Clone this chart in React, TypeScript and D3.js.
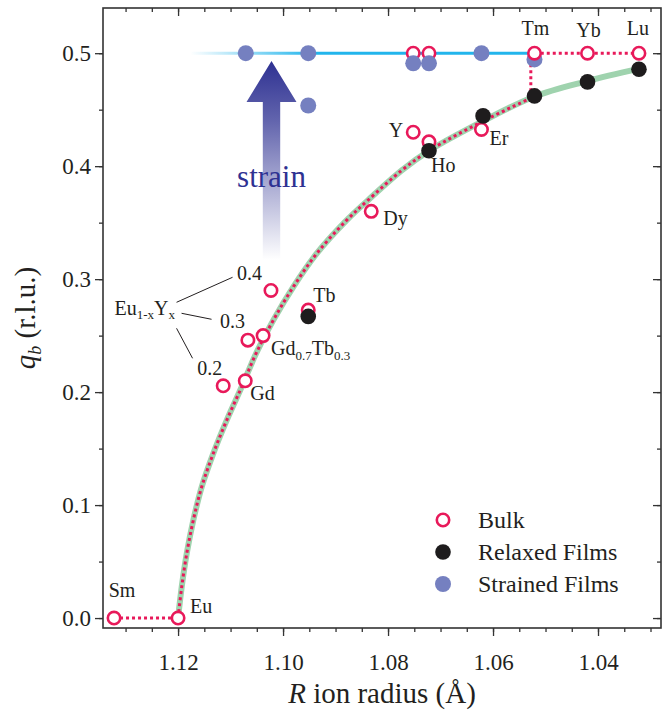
import React, { useEffect, useRef } from "react";
import * as d3 from "d3";

type Pt = { x: number; y: number };

// Bulk samples (open circles)
const bulk: Pt[] = [
  { x: 1.1322, y: 0.0 }, // Sm
  { x: 1.12, y: 0.0 }, // Eu
  { x: 1.1114, y: 0.2056 }, // Eu0.8Y0.2
  { x: 1.1072, y: 0.21 }, // Gd
  { x: 1.1067, y: 0.246 }, // Eu0.7Y0.3
  { x: 1.1038, y: 0.25 }, // Gd0.7Tb0.3
  { x: 1.1023, y: 0.29 }, // Eu0.6Y0.4
  { x: 1.0952, y: 0.2726 }, // Tb
  { x: 1.0832, y: 0.36 }, // Dy
  { x: 1.0752, y: 0.43 }, // Y
  { x: 1.0722, y: 0.4215 }, // Ho
  { x: 1.0622, y: 0.4325 }, // Er
  { x: 1.0752, y: 0.5 },
  { x: 1.0722, y: 0.5 },
  { x: 1.0521, y: 0.5 }, // Tm
  { x: 1.042, y: 0.5 }, // Yb
  { x: 1.0322, y: 0.5 }, // Lu
];

const relaxed: Pt[] = [
  { x: 1.0952, y: 0.267 },
  { x: 1.0722, y: 0.4136 },
  { x: 1.0619, y: 0.4445 },
  { x: 1.0521, y: 0.4622 },
  { x: 1.042, y: 0.4746 },
  { x: 1.0322, y: 0.4858 },
];

const strained: Pt[] = [
  { x: 1.1071, y: 0.5 },
  { x: 1.0952, y: 0.5 },
  { x: 1.0952, y: 0.4537 },
  { x: 1.0752, y: 0.491 },
  { x: 1.0722, y: 0.491 },
  { x: 1.0622, y: 0.5 },
];
// Tm strained film sits behind the bulk marker
const strainedBehind: Pt[] = [{ x: 1.0521, y: 0.4945 }];

// guide curve through the relaxed / bulk data
const fitCurve: [number, number][] = [
  [1.12, 0.0],
  [1.1193, 0.0277],
  [1.11834, 0.0573],
  [1.11709, 0.0867],
  [1.11549, 0.1162],
  [1.11328, 0.1458],
  [1.11072, 0.1752],
  [1.10787, 0.2047],
  [1.10514, 0.2342],
  [1.10185, 0.2637],
  [1.09804, 0.2932],
  [1.09358, 0.3227],
  [1.08787, 0.3522],
  [1.08381, 0.3699],
  [1.07733, 0.3965],
  [1.072, 0.4142],
  [1.0621, 0.4394],
  [1.05219, 0.4615],
  [1.0421, 0.4752],
  [1.03219, 0.4863],
];
const bulkFlat: [number, number][] = [
  [1.1322, 0],
  [1.12, 0],
];
const bulkTail: [number, number][] = [
  [1.0528, 0.461],
  [1.0528, 0.5],
  [1.0322, 0.5],
];
const strainedGuide: [number, number][] = [
  [1.1177, 0.5],
  [1.0521, 0.5],
];

const xTicks = [1.12, 1.1, 1.08, 1.06, 1.04];
const yTicks = [0.0, 0.1, 0.2, 0.3, 0.4, 0.5];
const xMinor = d3.range(1.13, 1.029, -0.005);
const yMinor = d3.range(0, 0.531, 0.05);

type Part = [string, boolean];
const labels: { parts: Part[]; x: number; y: number; dx: number; dy: number; anchor: string }[] = [
  { parts: [["Sm", false]], x: 1.1322, y: 0, dx: 8, dy: -21, anchor: "middle" },
  { parts: [["Eu", false]], x: 1.12, y: 0, dx: 12, dy: -5, anchor: "start" },
  { parts: [["Gd", false]], x: 1.1072, y: 0.21, dx: 5, dy: 19, anchor: "start" },
  {
    parts: [["Gd", false], ["0.7", true], ["Tb", false], ["0.3", true]],
    x: 1.1038, y: 0.25, dx: 8, dy: 19, anchor: "start",
  },
  { parts: [["Tb", false]], x: 1.0952, y: 0.2726, dx: 5, dy: -8, anchor: "start" },
  { parts: [["Dy", false]], x: 1.0832, y: 0.36, dx: 12, dy: 14, anchor: "start" },
  { parts: [["Y", false]], x: 1.0752, y: 0.43, dx: -10, dy: 5, anchor: "end" },
  { parts: [["Ho", false]], x: 1.0722, y: 0.4215, dx: 2, dy: 30, anchor: "start" },
  { parts: [["Er", false]], x: 1.0622, y: 0.4325, dx: 8, dy: 16, anchor: "start" },
  { parts: [["Tm", false]], x: 1.0521, y: 0.5, dx: 1, dy: -18, anchor: "middle" },
  { parts: [["Yb", false]], x: 1.042, y: 0.5, dx: 1, dy: -16, anchor: "middle" },
  { parts: [["Lu", false]], x: 1.0322, y: 0.5, dx: -1, dy: -18, anchor: "middle" },
  { parts: [["0.4", false]], x: 1.1023, y: 0.29, dx: -34, dy: -10, anchor: "start" },
  { parts: [["0.3", false]], x: 1.1067, y: 0.246, dx: -28, dy: -12, anchor: "start" },
  { parts: [["0.2", false]], x: 1.1114, y: 0.2056, dx: -26, dy: -11, anchor: "start" },
];

// Eu1-xYx label and its leader lines (offsets from the label origin)
const euYLabel = { x: 1.1321, y: 0.268 };
const euYLeaders: [number, number, number, number][] = [
  [62, -13, 118, -38],
  [67, -2, 97, 4],
  [62, 13, 78, 43],
];

const strainArrow = { x: 1.1022, y0: 0.317, y1: 0.493 };

const legendItems = ["Bulk", "Relaxed Films", "Strained Films"];

const RED = "#e8195a";
const BLACK = "#1e1c1d";
const VIOLET = "#7580c0";
const SKY = "#22b5ec";
const GREEN = "#9fd3ae";
const NAVY = "#2e3192";
const INK = "#231f20";
const FONT = "'Liberation Serif', 'Times New Roman', serif";

const Chart = () => {
  const chartRef = useRef<HTMLDivElement>(null);

  useEffect(() => {
    document.body.style.margin = "0";
    const W = 670;
    const H = 713;
    const margin = { top: 8, right: 9, bottom: 85, left: 103 };

    d3.select(chartRef.current).selectAll("*").remove();

    const svg = d3
      .select(chartRef.current)
      .append("svg")
      .attr("width", W)
      .attr("height", H)
      .style("display", "block")
      .style("font-family", FONT);

    const x = d3.scaleLinear().domain([1.1343, 1.028]).range([margin.left, W - margin.right]);
    const y = d3.scaleLinear().domain([-0.0088, 0.54]).range([H - margin.bottom, margin.top]);

    const defs = svg.append("defs");
    const gBlue = defs
      .append("linearGradient")
      .attr("id", "skyfade")
      .attr("gradientUnits", "userSpaceOnUse")
      .attr("x1", x(1.1177))
      .attr("x2", x(1.094))
      .attr("y1", 0)
      .attr("y2", 0);
    gBlue.append("stop").attr("offset", 0).attr("stop-color", SKY).attr("stop-opacity", 0);
    gBlue.append("stop").attr("offset", 1).attr("stop-color", SKY).attr("stop-opacity", 1);

    const gArrow = defs
      .append("linearGradient")
      .attr("id", "strainfade")
      .attr("gradientUnits", "userSpaceOnUse")
      .attr("x1", 0)
      .attr("x2", 0)
      .attr("y1", y(strainArrow.y1))
      .attr("y2", y(strainArrow.y0));
    gArrow.append("stop").attr("offset", 0).attr("stop-color", NAVY).attr("stop-opacity", 1);
    gArrow.append("stop").attr("offset", 0.3).attr("stop-color", NAVY).attr("stop-opacity", 0.75);
    gArrow.append("stop").attr("offset", 1).attr("stop-color", NAVY).attr("stop-opacity", 0);

    // Axes
    const x0 = margin.left;
    const x1 = W - margin.right;
    const y0 = H - margin.bottom;
    const y1 = margin.top;

    const styleAxis = (g: any) => {
      g.select(".domain").remove();
      g.selectAll("line").attr("stroke", "#333").attr("stroke-width", 1.3);
      g.selectAll("text").attr("fill", INK).style("font-family", FONT).style("font-size", "23px");
    };

    svg
      .append("g")
      .attr("transform", `translate(0,${y0})`)
      .call(d3.axisBottom(x).tickValues(xMinor).tickSize(4).tickFormat(() => ""))
      .call(styleAxis);
    svg
      .append("g")
      .attr("transform", `translate(0,${y0})`)
      .call(d3.axisBottom(x).tickValues(xTicks).tickSize(8).tickPadding(18).tickFormat(d3.format(".2f")))
      .call(styleAxis);
    svg
      .append("g")
      .attr("transform", `translate(0,${y1})`)
      .call(d3.axisTop(x).tickValues(xMinor).tickSize(-4).tickFormat(() => ""))
      .call(styleAxis);
    svg
      .append("g")
      .attr("transform", `translate(0,${y1})`)
      .call(d3.axisTop(x).tickValues(xTicks).tickSize(-8).tickFormat(() => ""))
      .call(styleAxis);

    svg
      .append("g")
      .attr("transform", `translate(${x0},0)`)
      .call(d3.axisLeft(y).tickValues(yMinor).tickSize(4).tickFormat(() => ""))
      .call(styleAxis);
    svg
      .append("g")
      .attr("transform", `translate(${x0},0)`)
      .call(d3.axisLeft(y).tickValues(yTicks).tickSize(8).tickPadding(4).tickFormat(d3.format(".1f")))
      .call(styleAxis);
    svg
      .append("g")
      .attr("transform", `translate(${x1},0)`)
      .call(d3.axisRight(y).tickValues(yMinor).tickSize(-4).tickFormat(() => ""))
      .call(styleAxis);
    svg
      .append("g")
      .attr("transform", `translate(${x1},0)`)
      .call(d3.axisRight(y).tickValues(yTicks).tickSize(-8).tickFormat(() => ""))
      .call(styleAxis);

    svg
      .append("rect")
      .attr("x", x0)
      .attr("y", y1)
      .attr("width", x1 - x0)
      .attr("height", y0 - y1)
      .attr("fill", "none")
      .attr("stroke", "#333")
      .attr("stroke-width", 1.6);

    // Axis titles
    const xt = svg
      .append("text")
      .attr("x", (x0 + x1) / 2)
      .attr("y", 703)
      .attr("text-anchor", "middle")
      .attr("fill", INK)
      .style("font-size", "29px");
    xt.append("tspan").style("font-style", "italic").text("R");
    xt.append("tspan").text(" ion radius (Å)");

    const yt = svg
      .append("text")
      .attr("transform", `translate(35,${(y0 + y1) / 2}) rotate(-90)`)
      .attr("text-anchor", "middle")
      .attr("fill", INK)
      .style("font-size", "29px");
    yt.append("tspan").style("font-style", "italic").text("q");
    yt.append("tspan").style("font-style", "italic").style("font-size", "18px").attr("dy", 6).text("b");
    yt.append("tspan").attr("dy", -6).text(" (r.l.u.)");

    // Lines
    const line = d3
      .line<[number, number]>()
      .x((d) => x(d[0]))
      .y((d) => y(d[1]));
    const smooth = d3
      .line<[number, number]>()
      .x((d) => x(d[0]))
      .y((d) => y(d[1]))
      .curve(d3.curveCatmullRom.alpha(0.5));

    svg
      .append("path")
      .datum(fitCurve)
      .attr("d", smooth)
      .attr("fill", "none")
      .attr("stroke", GREEN)
      .attr("stroke-width", 6);

    svg
      .append("path")
      .datum(strainedGuide)
      .attr("d", line)
      .attr("fill", "none")
      .attr("stroke", "url(#skyfade)")
      .attr("stroke-width", 3);

    const dotted = (p: any) =>
      p
        .attr("fill", "none")
        .attr("stroke", RED)
        .attr("stroke-width", 3)
        .attr("stroke-dasharray", "3,3");
    svg.append("path").datum(bulkFlat).attr("d", line).call(dotted);
    svg
      .append("path")
      .datum(fitCurve.filter((d) => d[0] >= 1.0521))
      .attr("d", smooth)
      .call(dotted);
    svg.append("path").datum(bulkTail).attr("d", line).call(dotted);

    // Strain arrow
    const ax = x(strainArrow.x);
    const tip = y(strainArrow.y1);
    const headBase = tip + 41;
    const bottom = y(strainArrow.y0);
    svg
      .append("path")
      .attr(
        "d",
        `M${ax},${tip} L${ax + 25},${headBase} L${ax + 8.7},${headBase} L${ax + 8.7},${bottom} L${ax - 8.7},${bottom} L${ax - 8.7},${headBase} L${ax - 25},${headBase} Z`
      )
      .attr("fill", "url(#strainfade)");
    svg
      .append("text")
      .attr("x", ax)
      .attr("y", y(0.3814))
      .attr("text-anchor", "middle")
      .attr("fill", NAVY)
      .style("font-size", "31px")
      .text("strain");

    // Points
    const dots = (data: Pt[], r: number, fill: string) =>
      svg
        .append("g")
        .selectAll("circle")
        .data(data)
        .join("circle")
        .attr("cx", (d) => x(d.x))
        .attr("cy", (d) => y(d.y))
        .attr("r", r)
        .attr("fill", fill);

    dots(strainedBehind, 8, VIOLET);
    dots(bulk, 6.2, "white").attr("stroke", RED).attr("stroke-width", 2.6);
    dots(relaxed, 7.8, BLACK);
    dots(strained, 8, VIOLET);

    // Labels
    labels.forEach((l) => {
      const t = svg
        .append("text")
        .attr("x", x(l.x) + l.dx)
        .attr("y", y(l.y) + l.dy)
        .attr("text-anchor", l.anchor)
        .attr("fill", INK)
        .style("font-size", "20px");
      let shifted = false;
      l.parts.forEach(([s, sub]) => {
        const ts = t.append("tspan").text(s);
        if (sub) {
          ts.attr("dy", 5).style("font-size", "13px");
          shifted = true;
        } else if (shifted) {
          ts.attr("dy", -5);
          shifted = false;
        }
      });
    });

    const ex = x(euYLabel.x);
    const ey = y(euYLabel.y);
    const et = svg
      .append("text")
      .attr("x", ex)
      .attr("y", ey)
      .attr("fill", INK)
      .style("font-size", "20px");
    et.append("tspan").text("Eu");
    et.append("tspan").attr("dy", 4).style("font-size", "13px").text("1-x");
    et.append("tspan").attr("dy", -4).text("Y");
    et.append("tspan").attr("dy", 4).style("font-size", "13px").text("x");
    svg
      .append("g")
      .selectAll("line")
      .data(euYLeaders)
      .join("line")
      .attr("x1", (d) => ex + d[0])
      .attr("y1", (d) => ey + d[1])
      .attr("x2", (d) => ex + d[2])
      .attr("y2", (d) => ey + d[3])
      .attr("stroke", INK)
      .attr("stroke-width", 1);

    // Legend
    const lg = svg.append("g").attr("transform", "translate(443,520)");
    legendItems.forEach((name, i) => {
      const row = lg.append("g").attr("transform", `translate(0,${i * 32})`);
      if (i === 0) {
        row.append("circle").attr("r", 6.2).attr("fill", "white").attr("stroke", RED).attr("stroke-width", 2.6);
      } else {
        row.append("circle").attr("r", i === 1 ? 7.8 : 8).attr("fill", i === 1 ? BLACK : VIOLET);
      }
      row
        .append("text")
        .attr("x", 35)
        .attr("y", 8)
        .attr("fill", INK)
        .style("font-size", "24px")
        .text(name);
    });
  }, []);

  return <div ref={chartRef}></div>;
};

export default function App() {
  return <Chart />;
}
